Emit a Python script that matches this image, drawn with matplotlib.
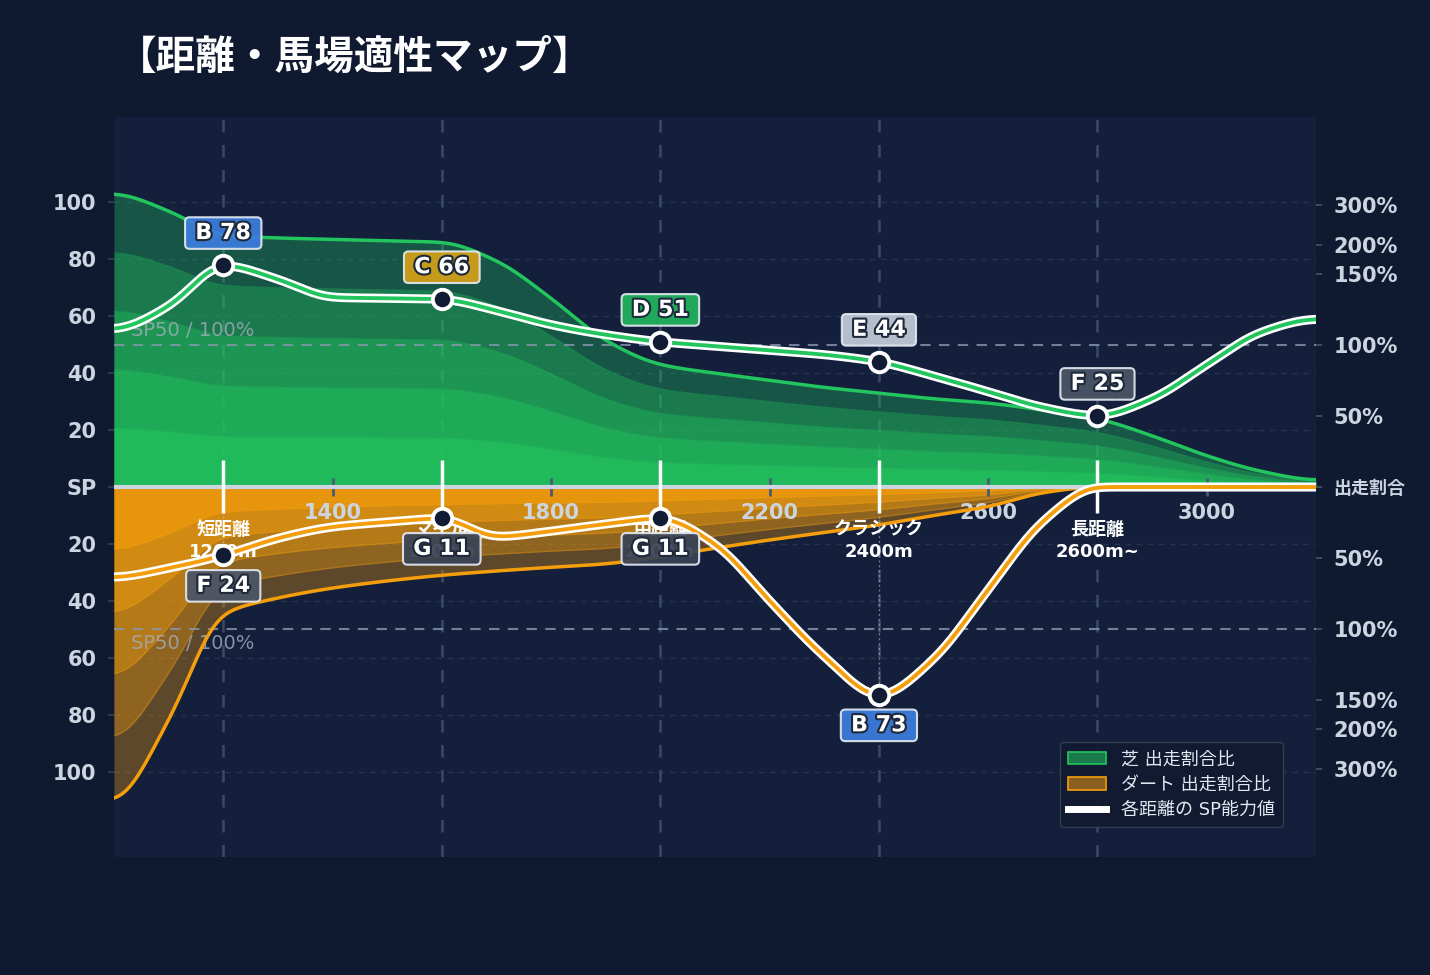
import numpy as np
import matplotlib
matplotlib.use("Agg")
import matplotlib.pyplot as plt
import matplotlib.patheffects as pe
from matplotlib.patches import Patch
from matplotlib.lines import Line2D

plt.rcParams['font.family'] = ['DejaVu Sans', 'Noto Sans CJK JP']

# --- data (100 m steps) ---
dist = [1000, 1100, 1200, 1300, 1400, 1500, 1600, 1700, 1800, 1900, 2000, 2100,
        2200, 2300, 2400, 2500, 2600, 2700, 2800, 2900, 3000, 3100, 3200]
turf_share = [103, 97, 88.5, 87.5, 87, 86.5, 86, 79.5, 66.3, 51.5, 43, 40,
              37.5, 35, 33, 31, 29.5, 27, 24, 18, 11, 5.5, 2.5]
dirt_share = [110, 82, 44.5, 39, 35.5, 33, 31, 29.5, 28.2, 27, 24.5, 21.5,
              18.6, 16, 13.3, 10, 6.9, 2, 0, 0, 0, 0, 0]
turf_sp = [55.5, 63.5, 78, 73, 66.6, 66.3, 66, 62, 57, 53.5, 51, 49.5,
           48, 46.5, 44, 39, 33.5, 28, 25, 31, 43, 54.5, 59]
dirt_sp = [31.7, 28.5, 24, 18, 14, 12.3, 11, 17.5, 15.5, 13, 11, 20,
           40, 59.5, 73.5, 60.5, 36, 12, 0, 0, 0, 0, 0]

cat_x = [1200, 1600, 2000, 2400, 2800]
cat_names = ['短距離', 'マイル', '中距離', 'クラシック', '長距離']
cat_dist = ['1200m', '1600m', '2000m', '2400m', '2600m~']
turf_grade = ['B', 'C', 'D', 'E', 'F']
turf_score = [78, 66, 51, 44, 25]
dirt_grade = ['F', 'G', 'G', 'B']
dirt_score = [24, 11, 11, 73]

left_ticks = [100, 80, 60, 40, 20, 0, -20, -40, -60, -80, -100]
right_ticks = [99, 85, 75, 50, 25, 0, -25, -50, -75, -85, -99]
right_labels = ['300%', '200%', '150%', '100%', '50%', '出走割合',
                '50%', '100%', '150%', '200%', '300%']
x_ticks = [1400, 1800, 2200, 2600, 3000]
layers = [1.0, 0.8, 0.6, 0.4, 0.2]
layer_alpha = [0.33, 0.33, 0.38, 0.45, 0.6]

grade_colors = {'B': '#3b7ddd', 'C': '#d4a017', 'D': '#22b35e',
                'E': '#c3cbd9', 'F': '#4b5567', 'G': '#3a4354'}

GREEN = '#22c55e'
ORANGE = '#f59e0b'
BG = '#0f1930'
AXBG = '#131f3b'


def pchip(x, y, xs):
    # monotone cubic, flat at both ends
    x = np.asarray(x, float)
    y = np.asarray(y, float)
    h = np.diff(x)
    d = np.diff(y) / h
    n = len(x)
    m = np.zeros(n)
    for k in range(1, n - 1):
        if d[k - 1] * d[k] > 0:
            w1 = 2 * h[k] + h[k - 1]
            w2 = h[k] + 2 * h[k - 1]
            m[k] = (w1 + w2) / (w1 / d[k - 1] + w2 / d[k])
    i = np.clip(np.searchsorted(x, xs) - 1, 0, n - 2)
    t = (xs - x[i]) / h[i]
    h00 = 2 * t**3 - 3 * t**2 + 1
    h10 = t**3 - 2 * t**2 + t
    h01 = -2 * t**3 + 3 * t**2
    h11 = t**3 - t**2
    return h00 * y[i] + h10 * h[i] * m[i] + h01 * y[i + 1] + h11 * h[i] * m[i + 1]


xs = np.linspace(1000, 3200, 900)


def smooth(y, sigma_m=18):
    s = sigma_m / (xs[1] - xs[0])
    k = np.arange(-int(4 * s), int(4 * s) + 1)
    w = np.exp(-0.5 * (k / s) ** 2)
    w /= w.sum()
    yp = np.pad(y, len(k) // 2, mode='edge')
    return np.convolve(yp, w, mode='valid')


t_env = smooth(pchip(dist, turf_share, xs))
d_env = -smooth(pchip(dist, dirt_share, xs))
t_sp = smooth(pchip(dist, turf_sp, xs))
d_sp = -smooth(pchip(dist, dirt_sp, xs))

fig = plt.figure(figsize=(14.3, 9.75), dpi=100, facecolor=BG)
ax = fig.add_axes([0.0797, 0.121, 0.8406, 0.759])
ax.set_facecolor(AXBG)
ax.set_xlim(1000, 3200)
ax.set_ylim(-130, 130)

# grid + category guides
for v in left_ticks:
    if v != 0:
        ax.axhline(v, color='#26344f', lw=1, ls=(0, (4, 4)), zorder=0.3)
for cx in cat_x:
    ax.axvline(cx, color='#3a4a66', lw=1.8, ls=(0, (5, 5)), zorder=0.4)

# layered share fills
for f, a in zip(layers, layer_alpha):
    ax.fill_between(xs, 0, t_env * f, color=GREEN, alpha=a, lw=0, zorder=1)
    ax.fill_between(xs, 0, d_env * f, color=ORANGE, alpha=a, lw=0, zorder=1)
    if f < 1:
        ax.plot(xs, t_env * f, color=GREEN, alpha=0.3, lw=1, zorder=1.1)
        ax.plot(xs, d_env * f, color=ORANGE, alpha=0.3, lw=1, zorder=1.1)
ax.plot(xs, t_env, color=GREEN, lw=2.5, zorder=2)
ax.plot(xs, d_env, color=ORANGE, lw=2.5, zorder=2)

# SP50 reference
for s in (50, -50):
    ax.axhline(s, color='#8a98b0', lw=1.5, ls=(0, (5, 4)), alpha=0.8, zorder=1.8)
ax.text(1031, 51.5, 'SP50 / 100%', color='#a3adbd', alpha=0.8, fontsize=14,
        va='bottom', zorder=1.5)
ax.text(1031, -51.5, 'SP50 / 100%', color='#a3adbd', alpha=0.8, fontsize=14,
        va='top', zorder=1.5)

ax.axhline(0, color='#cbd5e1', lw=3, zorder=3)
ax.vlines(cat_x, -9, 9.5, color='white', lw=2.5, zorder=4)

for cx, nm, ds in zip(cat_x, cat_names, cat_dist):
    ax.text(cx, -15, nm, color='white', fontsize=13, fontweight='bold',
            ha='center', va='center', zorder=4.2)
    ax.text(cx, -22.8, ds, color='white', fontsize=13, fontweight='bold',
            ha='center', va='center', zorder=4.2)

# drop lines
for cx, sc in zip(cat_x, dirt_score):
    ax.plot([cx, cx], [0, -sc], color='#cbd5e1', lw=1, ls=(0, (1.5, 2)), alpha=0.5, zorder=3.5)

# SP lines
ax.plot(xs, t_sp, color='white', lw=6.5, zorder=5, solid_capstyle='butt')
ax.plot(xs, t_sp, color=GREEN, lw=2.8, zorder=5.1)
ax.plot(xs, d_sp, color='white', lw=6.5, zorder=5, solid_capstyle='butt')
ax.plot(xs, d_sp, color=ORANGE, lw=2.8, zorder=5.1)

ax.plot(cat_x, turf_score, 'o', ms=14, mfc='#111b33', mec='white', mew=2.8, zorder=6)
ax.plot(cat_x[:len(dirt_score)], [-s for s in dirt_score], 'o', ms=14,
        mfc='#111b33', mec='white', mew=2.8, zorder=6)


def grade_box(x, y, g, s, dy):
    ax.annotate(f'\u2009{g} {s}\u2009', (x, y), xytext=(0, dy), textcoords='offset points',
                ha='center', va='center', fontsize=16, fontweight='bold',
                color='white', zorder=7,
                path_effects=[pe.withStroke(linewidth=3, foreground='#1e293b')],
                bbox=dict(boxstyle='round,pad=0.26,rounding_size=0.2',
                          fc=grade_colors[g], ec='#e2e8f0', lw=1.5, alpha=0.93))


for cx, g, s in zip(cat_x, turf_grade, turf_score):
    grade_box(cx, s, g, s, 23)
for cx, g, s in zip(cat_x, dirt_grade, dirt_score):
    grade_box(cx, -s, g, s, -22)

# axes styling
for sp in ax.spines.values():
    sp.set_visible(False)
ax.spines['bottom'].set_position(('data', 0))
ax.set_xticks(x_ticks)
ax.set_xticklabels([str(v) for v in x_ticks])
ax.tick_params(axis='x', direction='inout', length=13.5, width=2, color='#4b5a72',
               pad=5, labelsize=15, labelcolor='#cbd5e1')
for lb in ax.get_xticklabels():
    lb.set_fontweight('bold')
ax.set_yticks(left_ticks)
ax.set_yticklabels(['SP' if v == 0 else str(abs(v)) for v in left_ticks])
ax.tick_params(axis='y', length=4.5, width=1.2, color='#334155', pad=8,
               labelsize=15, labelcolor='#cbd5e1')
for lb in ax.get_yticklabels():
    lb.set_fontweight('bold')

ax2 = ax.twinx()
ax2.set_ylim(ax.get_ylim())
for sp in ax2.spines.values():
    sp.set_visible(False)
ax2.set_yticks(right_ticks)
ax2.set_yticklabels(right_labels)
ax2.tick_params(axis='y', length=4.5, width=1.2, color='#4b5563', pad=8,
                labelsize=15, labelcolor='#cbd5e1')
for lb in ax2.get_yticklabels():
    lb.set_fontweight('bold')
    if lb.get_text() == '出走割合':
        lb.set_fontsize(13)

handles = [Patch(facecolor='#1a7a4c', edgecolor=GREEN, lw=1.2),
           Patch(facecolor='#8a5f1f', edgecolor=ORANGE, lw=1.2),
           Line2D([], [], color='white', lw=5)]
leg = ax2.legend(handles, ['芝 出走割合比', 'ダート 出走割合比', '各距離の SP能力値'],
                 loc='lower right', bbox_to_anchor=(0.9725, 0.0405), borderaxespad=0,
                 fontsize=13, frameon=True, facecolor='#111a31', edgecolor='#334155',
                 labelcolor='#e2e8f0', handlelength=2.1, handleheight=0.7,
                 borderpad=0.45, labelspacing=0.4, fancybox=True, framealpha=0.95)
leg.set_zorder(10)

fig.text(0.0815, 0.941, '【距離・馬場適性マップ】', color='white', fontsize=28.5,
         fontweight='bold', family=['Noto Sans CJK JP'], va='center', ha='left')

fig.savefig('out.png', dpi=100, facecolor=BG)
